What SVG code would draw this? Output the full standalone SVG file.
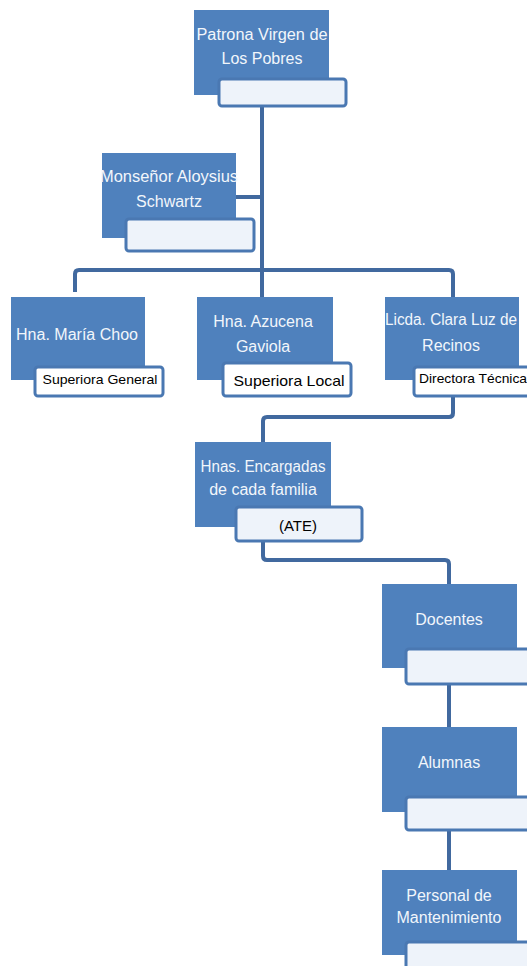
<svg xmlns="http://www.w3.org/2000/svg" width="527" height="966" viewBox="0 0 527 966">
<style>
.box{fill:#4f81bd}
.lab{fill:#eef3fa;stroke:#4a78b2;stroke-width:3}
.t{font-family:"Liberation Sans",Arial,sans-serif;font-size:16px;fill:#f2f6fb;text-anchor:middle}
.s{font-family:"Liberation Sans",Arial,sans-serif;font-size:13px;fill:#000;text-anchor:middle}
.c{fill:none;stroke:#41699f;stroke-width:4;stroke-linejoin:round}
</style>
<rect width="527" height="966" fill="#fff"/>
<g id="connectors">
<path class="c" d="M262 106 V270"/>
<path class="c" d="M236 197 H262"/>
<path class="c" d="M75 292 V274 Q75 270 79 270 H449 Q453 270 453 274 V297"/>
<path class="c" d="M262 270 V297"/>
<path class="c" d="M453 397 V413 Q453 417 449 417 H267 Q263 417 263 421 V442"/>
<path class="c" d="M263 542 V556 Q263 560 267 560 H445 Q449 560 449 564 V584"/>
<path class="c" d="M449 685 V727"/>
<path class="c" d="M449 830 V870"/>
</g>
<g id="n1">
<rect class="box" x="194" y="10" width="135" height="85"/>
<rect class="lab" x="219" y="79" width="127" height="27" rx="3"/>
<text class="t" x="262" y="40" textLength="131" lengthAdjust="spacingAndGlyphs">Patrona Virgen de</text>
<text class="t" x="262" y="64">Los Pobres</text>
</g>
<g id="n2">
<rect class="box" x="102" y="153" width="134" height="85"/>
<rect class="lab" x="126" y="219" width="128" height="32" rx="3"/>
<text class="t" x="169" y="182" textLength="138" lengthAdjust="spacingAndGlyphs">Monseñor Aloysius</text>
<text class="t" x="169" y="207">Schwartz</text>
</g>
<g id="n3">
<rect class="box" x="11" y="297" width="134" height="83"/>
<rect class="lab" x="35" y="367" width="128" height="29" rx="3" style="fill:#fff"/>
<text class="t" x="77" y="340" textLength="122" lengthAdjust="spacingAndGlyphs">Hna. María Choo</text>
<text class="s" x="100" y="384" textLength="115" lengthAdjust="spacingAndGlyphs">Superiora General</text>
</g>
<g id="n4">
<rect class="box" x="197" y="297" width="136" height="83"/>
<rect class="lab" x="223" y="363" width="128" height="33" rx="3" style="fill:#fff"/>
<text class="t" x="263" y="327">Hna. Azucena</text>
<text class="t" x="263" y="352">Gaviola</text>
<text class="s" x="289" y="386" style="font-size:15px" textLength="111" lengthAdjust="spacingAndGlyphs">Superiora Local</text>
</g>
<g id="n5">
<rect class="box" x="385" y="297" width="134" height="83"/>
<rect class="lab" x="414" y="367" width="120" height="29" rx="3" style="fill:#fff"/>
<text class="t" x="451" y="325" textLength="132" lengthAdjust="spacingAndGlyphs">Licda. Clara Luz de</text>
<text class="t" x="451" y="351">Recinos</text>
<text class="s" x="473" y="383" textLength="108" lengthAdjust="spacingAndGlyphs">Directora Técnica</text>
</g>
<g id="n6">
<rect class="box" x="195" y="442" width="136" height="85"/>
<rect class="lab" x="236" y="507" width="126" height="34" rx="3"/>
<text class="t" x="263" y="472" textLength="125" lengthAdjust="spacingAndGlyphs">Hnas. Encargadas</text>
<text class="t" x="263" y="495">de cada familia</text>
<text class="s" x="298" y="531" style="font-size:15px">(ATE)</text>
</g>
<g id="n7">
<rect class="box" x="382" y="584" width="135" height="84"/>
<rect class="lab" x="406" y="649" width="130" height="35" rx="3"/>
<text class="t" x="449" y="625">Docentes</text>
</g>
<g id="n8">
<rect class="box" x="382" y="727" width="135" height="85"/>
<rect class="lab" x="406" y="797" width="130" height="33" rx="3"/>
<text class="t" x="449" y="768">Alumnas</text>
</g>
<g id="n9">
<rect class="box" x="382" y="870" width="135" height="85"/>
<rect class="lab" x="406" y="942" width="130" height="35" rx="3"/>
<text class="t" x="449" y="901">Personal de</text>
<text class="t" x="449" y="923">Mantenimiento</text>
</g>
</svg>
